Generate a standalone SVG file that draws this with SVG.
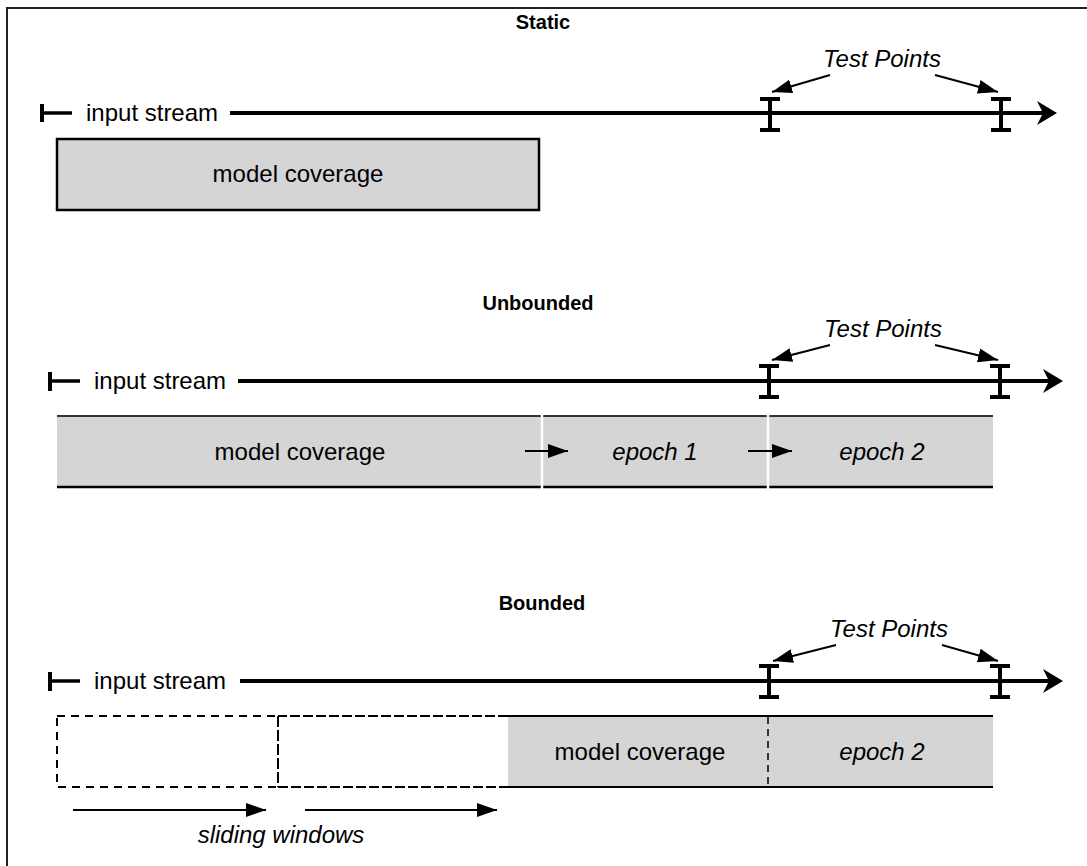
<svg xmlns="http://www.w3.org/2000/svg" width="1087" height="866" viewBox="0 0 1087 866">
  <defs>
    <style>
      .title { font-family: "Liberation Sans", Arial, sans-serif; font-weight: bold; font-size: 20px; text-anchor: middle; fill: #000; }
      .lbl { font-family: "Liberation Sans", Arial, sans-serif; font-size: 24px; fill: #000; }
      .mid { text-anchor: middle; }
      .it { font-style: italic; }
      .stream { stroke: #000; stroke-width: 4; fill: none; }
      .tick { stroke: #000; stroke-width: 4; fill: none; }
      .lead { stroke: #000; stroke-width: 3.5; fill: none; }
      .ibeam { stroke: #000; stroke-width: 4; fill: none; }
      .thin { stroke: #000; stroke-width: 2; fill: none; }
      .cover { fill: #d5d5d5; }
      .dash { stroke: #000; stroke-width: 2; fill: none; stroke-dasharray: 8 6; }
      .dense { stroke: #000; stroke-width: 2; fill: none; stroke-dasharray: 10 3; }
    </style>
    <marker id="headL" viewBox="0 0 10 10" refX="10" refY="5" markerWidth="20" markerHeight="14" markerUnits="userSpaceOnUse" orient="auto" preserveAspectRatio="none">
      <path d="M0,0 L10,5 L0,10 Z" fill="#000"/>
    </marker>
    <path id="streamHead" d="M0,0 L-20,-12 L-14,0 L-20,12 Z" fill="#000"/>
  </defs>

  <!-- frame -->
  <path d="M7,866 V8 H1087" fill="none" stroke="#222" stroke-width="2"/>

  <!-- ===== Static ===== -->
  <g id="static">
    <text class="title" x="543" y="29">Static</text>
    <g id="static-stream">
      <path class="tick" d="M42,104 V122"/>
      <path class="lead" d="M42,113 H72"/>
      <text class="lbl" x="86" y="121">input stream</text>
      <path class="stream" d="M230,113 H1045"/>
      <use href="#streamHead" x="1057" y="113"/>
    </g>
    <g id="static-tests">
      <path class="ibeam" d="M770,99 V130 M760,99 H780 M760,130 H780"/>
      <path class="ibeam" d="M1001,99 V130 M991,99 H1011 M991,130 H1011"/>
      <text class="lbl it mid" x="882" y="67">Test Points</text>
    </g>
    <g id="static-coverage">
      <rect class="cover" x="57" y="139" width="482" height="71" stroke="#000" stroke-width="2.5"/>
      <text class="lbl mid" x="298" y="182">model coverage</text>
    </g>
  </g>

  <!-- ===== Unbounded ===== -->
  <g id="unbounded">
    <text class="title" x="538" y="310">Unbounded</text>
    <g id="unbounded-stream">
      <path class="tick" d="M50,372 V391"/>
      <path class="lead" d="M50,381 H80"/>
      <text class="lbl" x="94" y="389">input stream</text>
      <path class="stream" d="M238,381 H1050"/>
      <use href="#streamHead" x="1063" y="381"/>
    </g>
    <g id="unbounded-tests">
      <path class="ibeam" d="M769,366 V397 M759,366 H779 M759,397 H779"/>
      <path class="ibeam" d="M1000,366 V397 M990,366 H1010 M990,397 H1010"/>
      <text class="lbl it mid" x="883" y="337">Test Points</text>
    </g>
    <g id="unbounded-coverage">
      <rect class="cover" x="57" y="416" width="936" height="71"/>
      <path d="M57,416 H993" stroke="#333" stroke-width="2"/>
      <path d="M57,487 H993" stroke="#000" stroke-width="2.5"/>
      <path d="M542,414 V489 M768,414 V489" stroke="#fff" stroke-width="2.5"/>
      <text class="lbl mid" x="300" y="460">model coverage</text>
      <text class="lbl it mid" x="655" y="460">epoch 1</text>
      <text class="lbl it mid" x="882" y="460">epoch 2</text>
    </g>
  </g>

  <!-- ===== Bounded ===== -->
  <g id="bounded">
    <text class="title" x="542" y="610">Bounded</text>
    <g id="bounded-stream">
      <path class="tick" d="M50,672 V691"/>
      <path class="lead" d="M50,681 H80"/>
      <text class="lbl" x="94" y="689">input stream</text>
      <path class="stream" d="M240,681 H1050"/>
      <use href="#streamHead" x="1063" y="681"/>
    </g>
    <g id="bounded-tests">
      <path class="ibeam" d="M769,666 V697 M759,666 H779 M759,697 H779"/>
      <path class="ibeam" d="M1000,666 V697 M990,666 H1010 M990,697 H1010"/>
      <text class="lbl it mid" x="889" y="637">Test Points</text>
    </g>
    <g id="window-1">
      <rect class="dash" x="57" y="716" width="221" height="71"/>
    </g>
    <g id="window-2">
      <path class="dense" d="M508,716 H278 M278,787 H508"/>
      <path class="dash" d="M278,716 V787"/>
    </g>
    <g id="bounded-coverage">
      <rect class="cover" x="508" y="716" width="485" height="71"/>
      <path d="M508,716 H993 M508,787 H993" stroke="#000" stroke-width="2"/>
      <path d="M768,717 V786" stroke="#000" stroke-width="1.5" stroke-dasharray="7 5"/>
      <text class="lbl mid" x="640" y="760">model coverage</text>
      <text class="lbl it mid" x="882" y="760">epoch 2</text>
    </g>
    <text class="lbl it mid" x="281" y="843">sliding windows</text>
  </g>

  <!-- connectors -->
  <g id="connectors">
    <path class="thin" d="M830,75 L772,92" marker-end="url(#headL)"/>
    <path class="thin" d="M935,75 L998,92" marker-end="url(#headL)"/>
    <path class="thin" d="M830,345 L772,360" marker-end="url(#headL)"/>
    <path class="thin" d="M935,345 L998,360" marker-end="url(#headL)"/>
    <path class="thin" d="M836,645 L773,661" marker-end="url(#headL)"/>
    <path class="thin" d="M942,645 L998,661" marker-end="url(#headL)"/>
    <path class="thin" d="M525,451 H568" marker-end="url(#headL)"/>
    <path class="thin" d="M748,451 H792" marker-end="url(#headL)"/>
    <path class="thin" d="M73,810 H266" marker-end="url(#headL)"/>
    <path class="thin" d="M305,810 H497" marker-end="url(#headL)"/>
  </g>
</svg>
